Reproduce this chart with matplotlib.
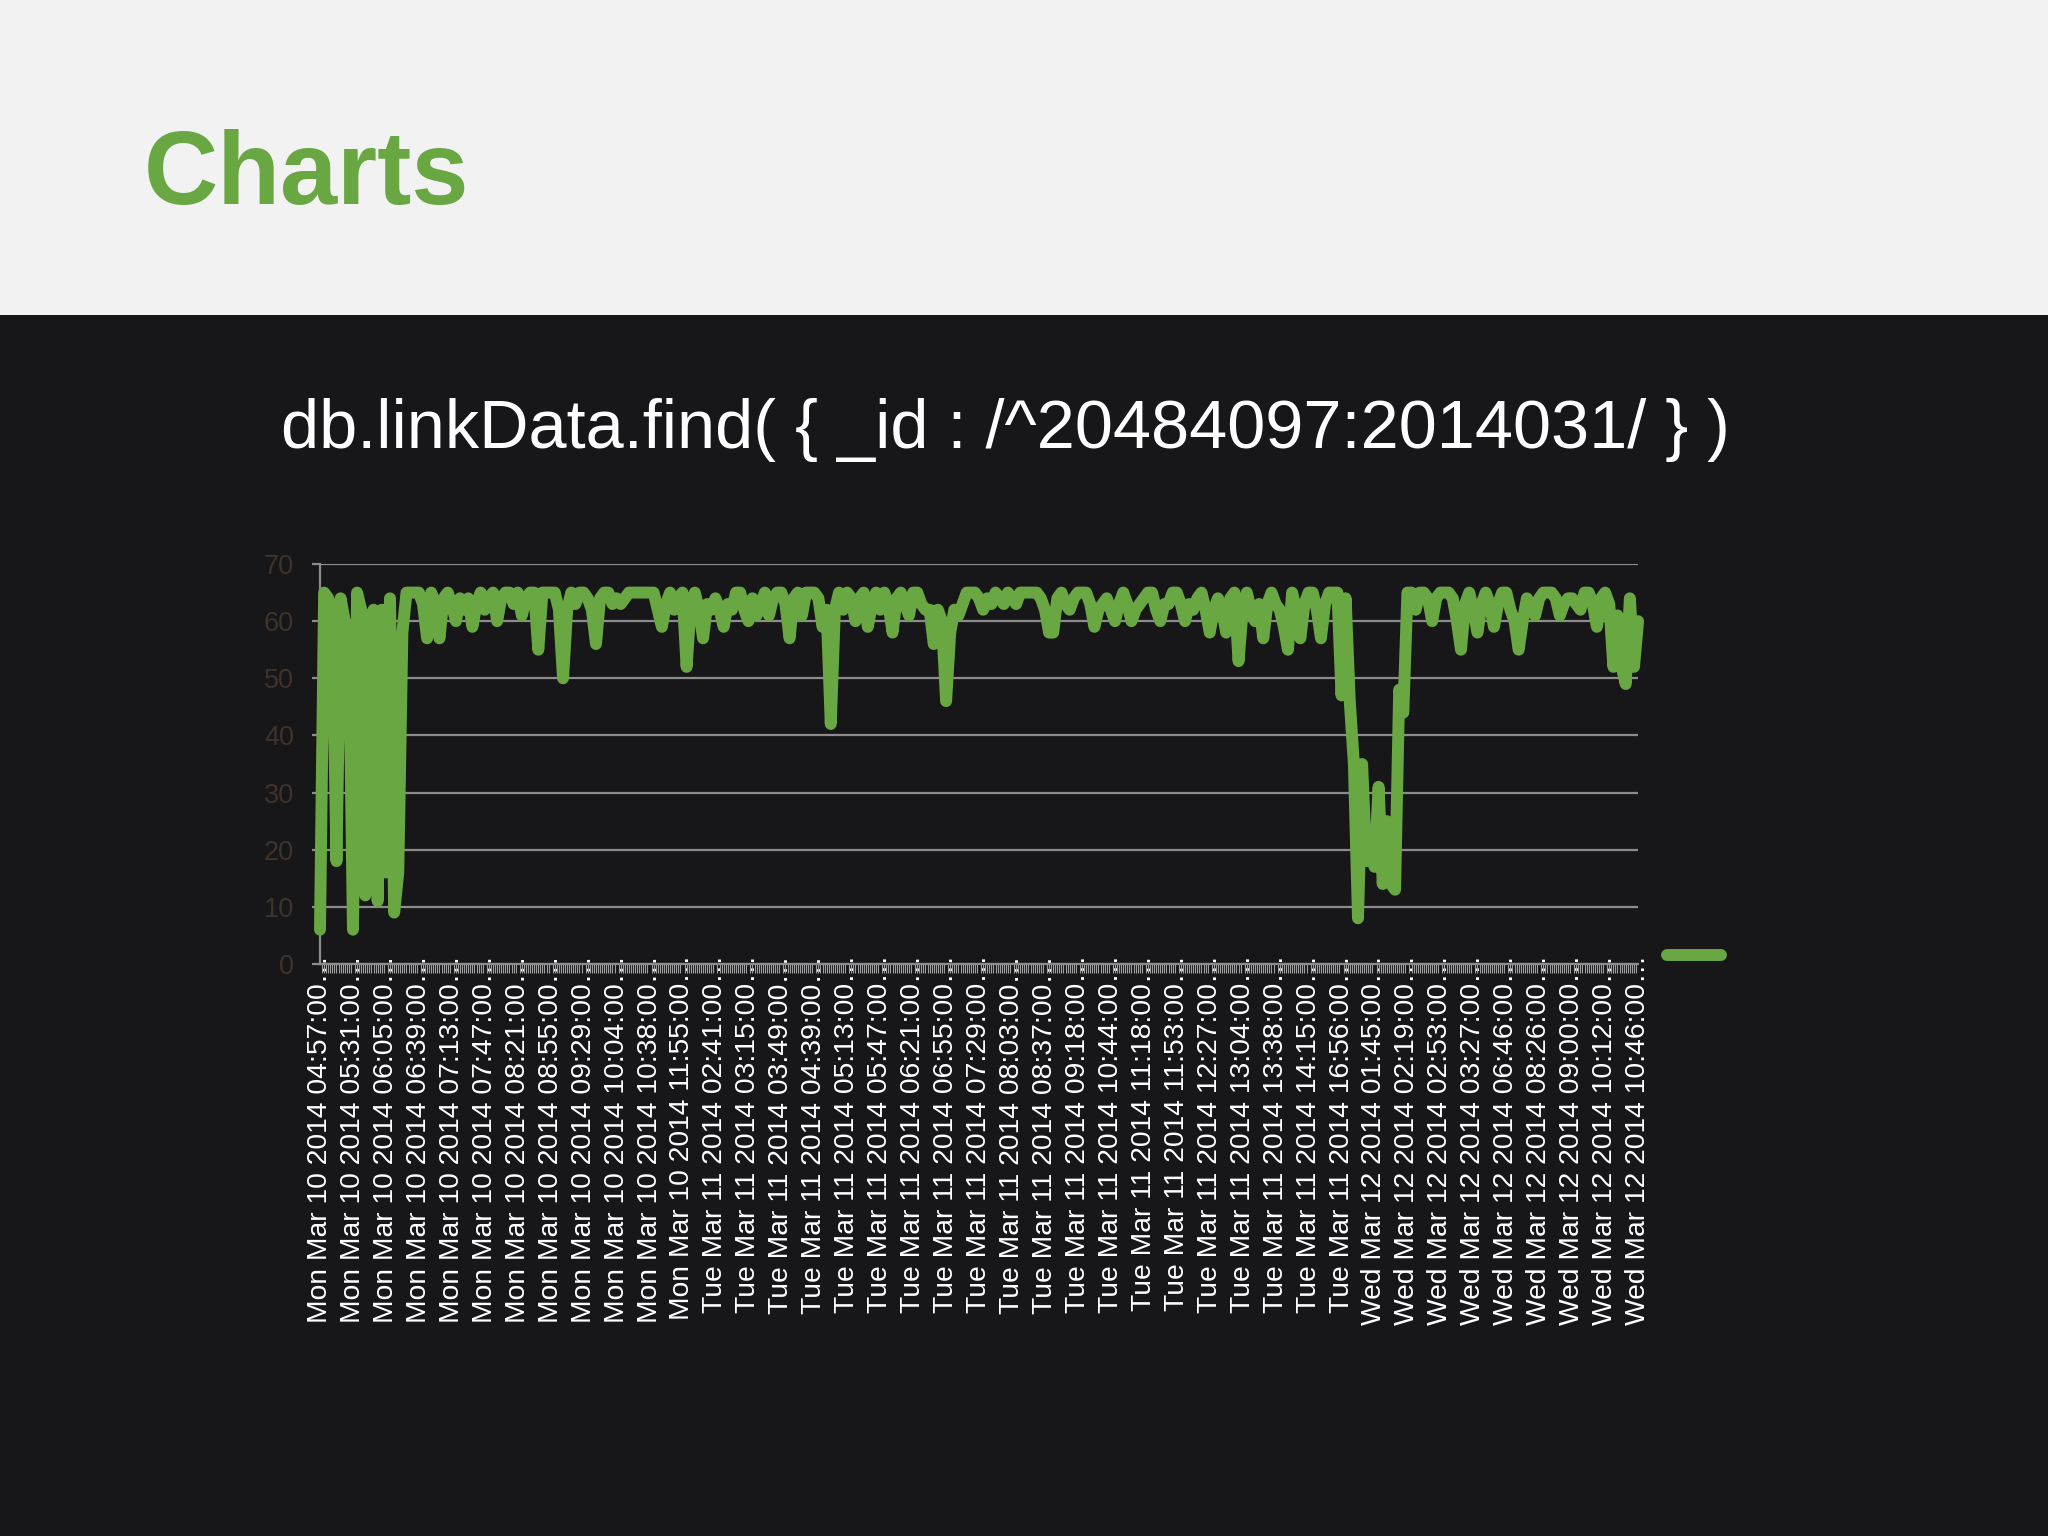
"""
plot.py
-------
Slide-style line chart of link values (db.linkData.find query) over
Mar 10-12 2014, dark slide body with a light header band.
"""

import numpy as np
import matplotlib
matplotlib.use("Agg")
import matplotlib.pyplot as plt
from matplotlib.patches import Rectangle
from matplotlib.ticker import MultipleLocator

# =====================================================
# CONFIG
# =====================================================

OUT_FILE     = "out.png"
BG_DARK      = "#171618"
BG_LIGHT     = "#f2f2f2"
GREEN        = "#69a742"
GRID_GREY    = "#8c8c8c"
YLABEL_BROWN = "#3f332b"

plt.rcParams['font.family'] = ['Liberation Sans', 'DejaVu Sans']

# =====================================================
# DATA
# =====================================================

TITLE = "Charts"
QUERY = "db.linkData.find( { _id : /^20484097:2014031/ } )"

tick_labels = [
    "Mon Mar 10 2014 04:57:00", "Mon Mar 10 2014 05:31:00", "Mon Mar 10 2014 06:05:00",
    "Mon Mar 10 2014 06:39:00", "Mon Mar 10 2014 07:13:00", "Mon Mar 10 2014 07:47:00",
    "Mon Mar 10 2014 08:21:00", "Mon Mar 10 2014 08:55:00", "Mon Mar 10 2014 09:29:00",
    "Mon Mar 10 2014 10:04:00", "Mon Mar 10 2014 10:38:00", "Mon Mar 10 2014 11:55:00",
    "Tue Mar 11 2014 02:41:00", "Tue Mar 11 2014 03:15:00", "Tue Mar 11 2014 03:49:00",
    "Tue Mar 11 2014 04:39:00", "Tue Mar 11 2014 05:13:00", "Tue Mar 11 2014 05:47:00",
    "Tue Mar 11 2014 06:21:00", "Tue Mar 11 2014 06:55:00", "Tue Mar 11 2014 07:29:00",
    "Tue Mar 11 2014 08:03:00", "Tue Mar 11 2014 08:37:00", "Tue Mar 11 2014 09:18:00",
    "Tue Mar 11 2014 10:44:00", "Tue Mar 11 2014 11:18:00", "Tue Mar 11 2014 11:53:00",
    "Tue Mar 11 2014 12:27:00", "Tue Mar 11 2014 13:04:00", "Tue Mar 11 2014 13:38:00",
    "Tue Mar 11 2014 14:15:00", "Tue Mar 11 2014 16:56:00", "Wed Mar 12 2014 01:45:00",
    "Wed Mar 12 2014 02:19:00", "Wed Mar 12 2014 02:53:00", "Wed Mar 12 2014 03:27:00",
    "Wed Mar 12 2014 06:46:00", "Wed Mar 12 2014 08:26:00", "Wed Mar 12 2014 09:00:00",
    "Wed Mar 12 2014 10:12:00", "Wed Mar 12 2014 10:46:00",
]

# one row per labelled interval (8 samples each)
link_values = [
    6, 65, 64, 60, 18, 64, 60, 59,
    6, 65, 62, 12, 60, 62, 11, 62,
    16, 64, 9, 16, 58, 65, 65, 65,
    65, 63, 57, 65, 63, 57, 64, 65,
    63, 60, 64, 62, 64, 59, 63, 65,
    62, 64, 65, 60, 64, 65, 65, 63,
    65, 61, 64, 65, 65, 55, 65, 65,
    65, 65, 62, 50, 62, 65, 63, 65,
    65, 64, 62, 56, 64, 65, 65, 63,
    64, 63, 64, 65, 65, 65, 65, 65,
    65, 65, 62, 59, 63, 65, 62, 64,
    65, 52, 63, 65, 62, 57, 63, 62,
    64, 62, 59, 63, 62, 65, 65, 62,
    60, 64, 61, 63, 65, 61, 64, 65,
    65, 63, 57, 64, 65, 61, 65, 65,
    65, 64, 59, 62, 42, 62, 65, 62,
    65, 64, 60, 64, 65, 59, 63, 65,
    62, 65, 63, 58, 64, 65, 63, 61,
    65, 65, 63, 62, 62, 56, 62, 60,
    46, 58, 62, 61, 63, 65, 65, 65,
    64, 62, 64, 63, 65, 64, 63, 65,
    64, 63, 65, 65, 65, 65, 65, 64,
    62, 58, 58, 64, 65, 63, 62, 64,
    65, 65, 65, 63, 59, 62, 63, 64,
    62, 60, 63, 65, 63, 60, 62, 63,
    64, 65, 65, 62, 60, 63, 63, 65,
    65, 63, 60, 63, 62, 64, 65, 62,
    58, 62, 64, 62, 58, 64, 65, 53,
    62, 65, 62, 60, 63, 57, 63, 65,
    63, 62, 59, 55, 65, 62, 57, 63,
    65, 65, 62, 57, 63, 65, 65, 65,
    47, 64, 46, 35, 8, 35, 18, 20,
    17, 31, 14, 25, 14, 13, 48, 44,
    65, 65, 62, 65, 65, 64, 60, 64,
    65, 65, 65, 64, 60, 55, 63, 65,
    62, 58, 63, 65, 63, 59, 63, 65,
    65, 62, 60, 55, 60, 64, 63, 61,
    64, 65, 65, 65, 64, 61, 63, 64,
    64, 63, 62, 65, 65, 63, 59, 64,
    65, 63, 52, 61, 52, 49, 64, 52,
    60,
]

y_ticks     = [0, 10, 20, 30, 40, 50, 60, 70]
LABEL_EVERY = 8          # one date label every 8 samples

# =====================================================
# FIGURE + HEADER BAND
# =====================================================

fig = plt.figure(figsize=(20.48, 15.36), dpi=100, facecolor=BG_DARK)
fig.patches.append(Rectangle((0, 0.795), 1, 0.205, transform=fig.transFigure,
                             facecolor=BG_LIGHT, edgecolor='none', zorder=0))

fig.text(0.0703, 0.8672, TITLE, fontsize=74, fontweight='bold',
         color=GREEN, va='baseline', ha='left')
fig.text(0.1372, 0.7083, QUERY, fontsize=49.3, color='white',
         va='baseline', ha='left')

# =====================================================
# LINE CHART
# =====================================================

ax = fig.add_axes([0.15625, 0.3724, 0.6436, 0.2604])
ax.set_facecolor(BG_DARK)

x = np.arange(len(link_values))
line, = ax.plot(x, link_values, color=GREEN, linewidth=8.6,
                solid_joinstyle='round', solid_capstyle='round',
                clip_on=False, zorder=3)

ax.set_xlim(0, len(link_values) - 1)
ax.set_ylim(0, 70)

# y axis: grey grid + short grey ticks, dark brown labels
ax.set_yticks(y_ticks)
ax.yaxis.grid(True, color=GRID_GREY, linewidth=1.6)
ax.set_axisbelow(True)
ax.tick_params(axis='y', length=5.8, width=1.6, color=GRID_GREY,
               labelcolor=YLABEL_BROWN, labelsize=19.5, pad=13)

# x axis: rotated, truncated date labels + dense hatch of minor ticks
ax.set_xticks(x[::LABEL_EVERY])
ax.set_xticklabels([lab + "\u2026" for lab in tick_labels],
                   rotation=90, color='white', fontsize=20.3)
ax.tick_params(axis='x', which='major', length=0, pad=-6.5)
ax.xaxis.set_minor_locator(MultipleLocator(0.5))
ax.tick_params(axis='x', which='minor', length=6.5, width=0.8, color='#a0a0a0')

for side in ['top', 'right']:
    ax.spines[side].set_visible(False)
for side in ['left', 'bottom']:
    ax.spines[side].set_color(GRID_GREY)
    ax.spines[side].set_linewidth(1.6)

# legend: single unlabelled swatch to the right of the plot
ax.legend(handles=[line], labels=[''], loc='center left',
          bbox_to_anchor=(1.022, 0.015), frameon=False, fontsize=20,
          handlelength=1.95, handletextpad=0, borderpad=0, borderaxespad=0)

fig.savefig(OUT_FILE, dpi=100, facecolor=fig.get_facecolor())
print(f"Saved {OUT_FILE}")
